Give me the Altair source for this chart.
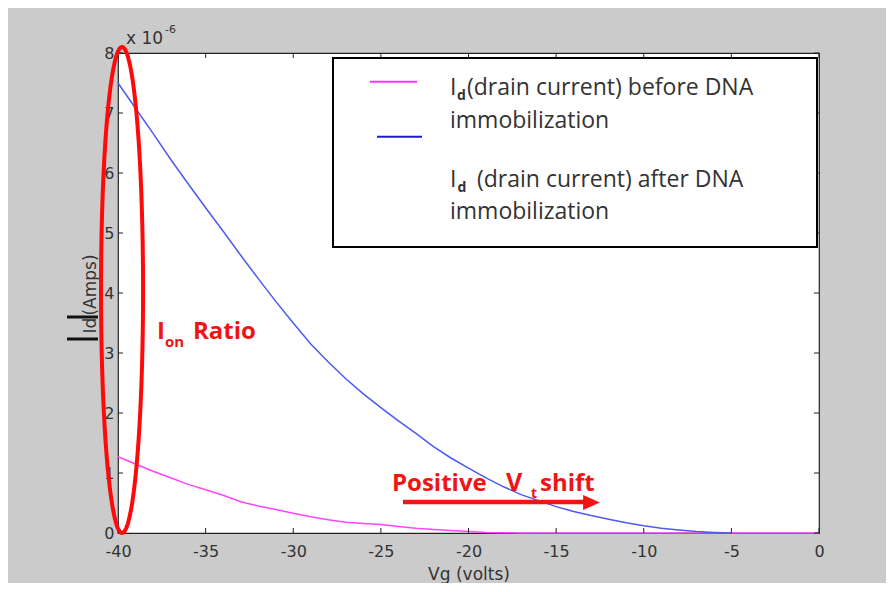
import altair as alt
import pandas as pd
import numpy as np

# ---------------- data (y values in units of 1e-6 A) ----------------
vg = list(range(-40, 1))
id_before = [1.27, 1.15, 1.03, 0.92, 0.81, 0.72, 0.63, 0.52, 0.45, 0.39,
             0.33, 0.27, 0.22, 0.18, 0.16, 0.14, 0.11, 0.08, 0.06, 0.04,
             0.025, 0.01, 0.005, 0.0, 0.0, 0.0, 0.0, 0.0, 0.0, 0.0,
             0.0, 0.0, 0.0, 0.0, 0.0, 0.0, 0.0, 0.0, 0.0, 0.0, 0.0]
id_after = [7.50, 7.08, 6.66, 6.23, 5.82, 5.42, 5.03, 4.63, 4.24, 3.86,
            3.50, 3.15, 2.85, 2.57, 2.32, 2.09, 1.87, 1.66, 1.44, 1.25,
            1.08, 0.92, 0.77, 0.64, 0.54, 0.44, 0.36, 0.29, 0.23, 0.17,
            0.12, 0.08, 0.05, 0.025, 0.01, 0.0, None, None, None, None, None]
series_names = ["before", "after"]
series_colors = ["#ff44ff", "#4a5cf0"]

x_ticks = [-40, -35, -30, -25, -20, -15, -10, -5, 0]
y_ticks = [0, 1, 2, 3, 4, 5, 6, 7, 8]

legend_text_1 = ["(drain current) before DNA", "immobilization"]
legend_text_2 = ["(drain current) after DNA", "immobilization"]
x_title = "Vg (volts)"
exp_text = ["x 10", "-6"]

# ellipse annotation around the y axis (data units)
ell_cx, ell_cy, ell_a, ell_b = -39.77, 4.05, 1.2, 4.05

W, H = 701, 480
FONT_AX = "DejaVu Sans"
FONT_TXT = "Open Sans"
RED = "#f01414"

rows = []
for v, b, a in zip(vg, id_before, id_after):
    rows.append({"vg": v, "id": b, "series": "before"})
    if a is not None:
        rows.append({"vg": v, "id": a, "series": "after"})
df = pd.DataFrame(rows)

xscale = alt.Scale(domain=[-40, 0], nice=False, zero=False)
yscale = alt.Scale(domain=[0, 8], nice=False, zero=False)

curves = alt.Chart(df).mark_line(strokeWidth=1.5).encode(
    x=alt.X("vg:Q", scale=xscale,
            axis=alt.Axis(values=x_ticks, ticks=False, domain=False, grid=False,
                          labelExpr="'' + datum.value",
                          labelFont=FONT_AX, labelFontSize=16, labelColor="#333",
                          labelPadding=10, title="", labelFlush=False)),
    y=alt.Y("id:Q", scale=yscale,
            axis=alt.Axis(values=y_ticks, ticks=False, domain=False, grid=False,
                          labelExpr="'' + datum.value",
                          labelFont=FONT_AX, labelFontSize=16, labelColor="#333",
                          labelPadding=4, title="", labelFlush=False)),
    color=alt.Color("series:N", scale=alt.Scale(domain=series_names, range=series_colors),
                    legend=None),
    order=alt.Order("vg:Q"),
)

xt = pd.DataFrame({"vg": x_ticks})
yt = pd.DataFrame({"id": y_ticks})
tick_style = dict(color="#222", strokeWidth=1)
ticks = [
    alt.Chart(xt).mark_rule(**tick_style).encode(x=alt.X("vg:Q", scale=xscale),
                                                  y=alt.value(H), y2=alt.value(H - 5)),
    alt.Chart(xt).mark_rule(**tick_style).encode(x=alt.X("vg:Q", scale=xscale),
                                                  y=alt.value(0), y2=alt.value(5)),
    alt.Chart(yt).mark_rule(**tick_style).encode(y=alt.Y("id:Q", scale=yscale),
                                                  x=alt.value(0), x2=alt.value(5)),
    alt.Chart(yt).mark_rule(**tick_style).encode(y=alt.Y("id:Q", scale=yscale),
                                                  x=alt.value(W), x2=alt.value(W - 5)),
]

one = pd.DataFrame({"k": [0]})


def txt(s, x, y, size, color="#333", font=FONT_TXT, weight="normal", angle=0,
        align="left", baseline="alphabetic"):
    return alt.Chart(one).mark_text(text=s, font=font, fontSize=size, color=color,
                                    fontWeight=weight, angle=angle, align=align,
                                    baseline=baseline).encode(x=alt.value(x), y=alt.value(y))


def rule(x1, x2, y1, y2, color, width):
    return alt.Chart(one).mark_rule(color=color, strokeWidth=width).encode(
        x=alt.value(x1), x2=alt.value(x2), y=alt.value(y1), y2=alt.value(y2))


legend_box = alt.Chart(one).mark_rect(fill="white", stroke="black", strokeWidth=2).encode(
    x=alt.value(215), x2=alt.value(699), y=alt.value(5), y2=alt.value(194))

legend = [
    legend_box,
    rule(252, 299, 28.7, 28.7, "#ff33ff", 2),
    rule(259, 304, 83.7, 83.7, "#1a1ad6", 2),
    txt("I", 332, 42, 23),
    txt("d", 339, 47, 14, weight="bold"),
    txt(legend_text_1[0], 349, 42, 23),
    txt(legend_text_1[1], 332, 75, 23),
    txt("I", 332, 134, 23),
    txt("d", 339.5, 139, 14, weight="bold"),
    txt(legend_text_2[0], 359, 134, 23),
    txt(legend_text_2[1], 332, 165.5, 23),
]

annots = [
    txt("I", 39, 286, 24, color=RED, weight="bold"),
    txt("on", 47, 294, 15, color=RED, weight="bold"),
    txt("Ratio", 75, 286, 24, color=RED, weight="bold"),
    txt("Positive", 274, 438, 24, color=RED, weight="bold"),
    txt("V", 388, 438, 25, color=RED, weight="bold"),
    txt("t", 413, 445, 14, color=RED, weight="bold"),
    txt("shift", 422, 438, 24, color=RED, weight="bold"),
    rule(285, 468, 449, 449, RED, 4.5),
    alt.Chart(one).mark_point(shape="M-1,-0.9L1,0L-1,0.9Z", filled=True, color=RED,
                              opacity=1, size=280).encode(x=alt.value(473.5), y=alt.value(449.5)),
    # axis titles / exponent
    txt(exp_text[0], 8, -9, 17, font=FONT_AX),
    txt(exp_text[1], 47, -20, 11, font=FONT_AX),
    txt(x_title, 351, 521.5, 17, font=FONT_AX, align="center", baseline="middle"),
    txt("(Amps)", -27, 232, 17, font=FONT_AX, angle=270, align="center", baseline="middle"),
    txt("Id", -27, 272.5, 17, font=FONT_AX, angle=270, align="center", baseline="middle"),
    rule(-51, -20, 264, 264, "#111", 3),
    rule(-51, -20, 286, 286, "#111", 3),
]

theta = np.linspace(0, 2 * np.pi, 181)
ell = pd.DataFrame({"vg": ell_cx + ell_a * np.cos(theta),
                    "id": ell_cy + ell_b * np.sin(theta),
                    "i": np.arange(len(theta))})
ellipse = alt.Chart(ell).mark_line(color="#ff0a0a", strokeWidth=4).encode(
    x=alt.X("vg:Q", scale=xscale),
    y=alt.Y("id:Q", scale=yscale),
    order="i:Q",
)

chart = alt.layer(curves, *ticks, *legend, *annots, ellipse).properties(
    width=W, height=H,
    padding={"left": 110, "top": 45, "right": 67, "bottom": 50},
    autosize=alt.AutoSizeParams(type="none"),
    background="#cbcbcb",
).configure_view(fill="white", stroke="#222", strokeWidth=1.2)

chart.save("out.html", embed_options={"renderer": "svg", "actions": False})
